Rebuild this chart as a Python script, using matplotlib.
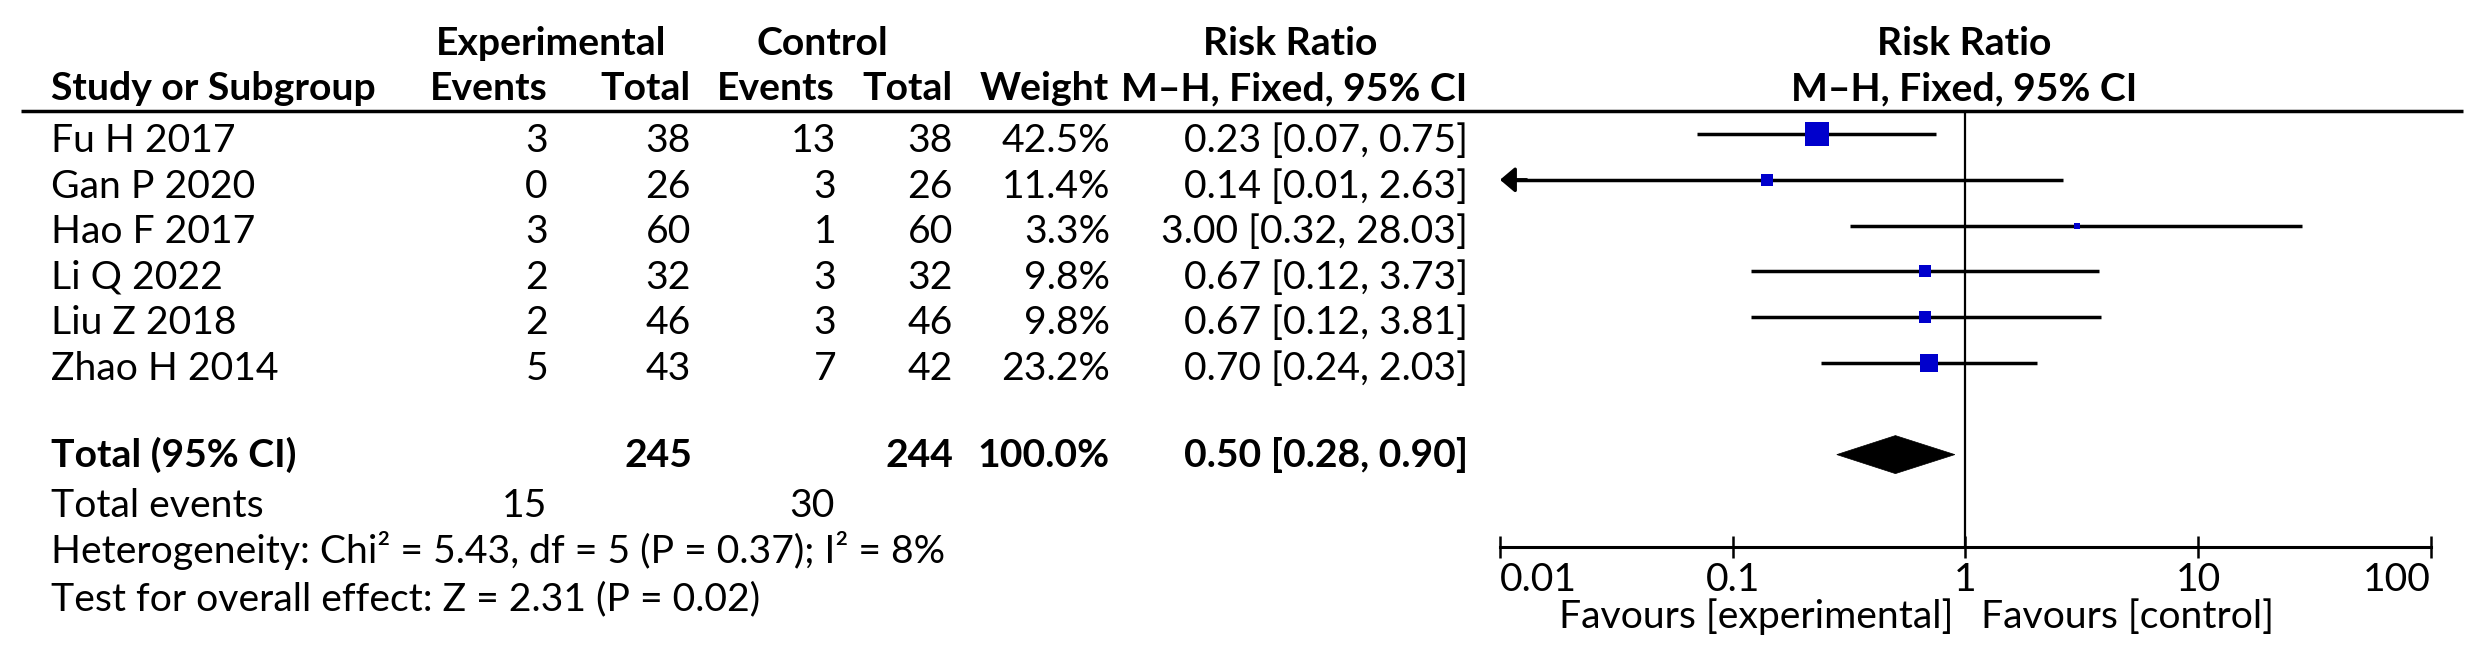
import matplotlib
matplotlib.use("Agg")
import matplotlib.pyplot as plt
from matplotlib.patches import Polygon
from matplotlib.ticker import NullLocator
import numpy as np

# ---------------- data ----------------
studies = ["Fu H 2017", "Gan P 2020", "Hao F 2017", "Li Q 2022", "Liu Z 2018", "Zhao H 2014"]
exp_events = [3, 0, 3, 2, 2, 5]
exp_total = [38, 26, 60, 32, 46, 43]
ctl_events = [13, 3, 1, 3, 3, 7]
ctl_total = [38, 26, 60, 32, 46, 42]
weights = [42.5, 11.4, 3.3, 9.8, 9.8, 23.2]
rr = [0.23, 0.14, 3.00, 0.67, 0.67, 0.70]
ci_low = [0.07, 0.01, 0.32, 0.12, 0.12, 0.24]
ci_high = [0.75, 2.63, 28.03, 3.73, 3.81, 2.03]

total_exp = 245
total_ctl = 244
total_weight = 100.0
pooled_rr = 0.50
pooled_low = 0.28
pooled_high = 0.90
events_exp_sum = 15
events_ctl_sum = 30
heterogeneity = "Heterogeneity: Chi\u00b2 = 5.43, df = 5 (P = 0.37); I\u00b2 = 8%"
overall = "Test for overall effect: Z = 2.31 (P = 0.02)"

xticks = [0.01, 0.1, 1, 10, 100]
xtick_labels = ["0.01", "0.1", "1", "10", "100"]
fav_left = "Favours [experimental]"
fav_right = "Favours [control]"

# ---------------- layout ----------------
W, H = 2491, 661
plt.rcParams['font.family'] = ['Lato', 'DejaVu Sans']
fig = plt.figure(figsize=(W / 100, H / 100), dpi=100)

# font size chosen so that the heterogeneity line has the reference width
_t = fig.text(0, 0, heterogeneity, fontsize=10)
_r = fig.canvas.get_renderer()
_w10 = _t.get_window_extent(_r).width
_t.remove()
FS = 10 * 893 / _w10

tab = fig.add_axes([0, 0, 1, 1])
tab.set_xlim(0, W)
tab.set_ylim(H, 0)
tab.axis('off')


def txt(x, y, s, ha='left', bold=False):
    tab.text(x, y, s, ha=ha, va='baseline', fontsize=FS,
             fontweight='bold' if bold else 'normal', color='black')


# header rows
txt(551, 55, "Experimental", ha='center', bold=True)
txt(822, 55, "Control", ha='center', bold=True)
txt(1290, 55, "Risk Ratio", ha='center', bold=True)
txt(1964, 55, "Risk Ratio", ha='center', bold=True)

txt(51, 100, "Study or Subgroup", bold=True)
txt(548, 100, "Events", ha='right', bold=True)
txt(691, 100, "Total", ha='right', bold=True)
txt(835, 100, "Events", ha='right', bold=True)
txt(953, 100, "Total", ha='right', bold=True)
txt(1109, 100, "Weight", ha='right', bold=True)
txt(1467, 100, "M\u2013H, Fixed, 95% CI", ha='right', bold=True)
txt(1964, 100, "M\u2013H, Fixed, 95% CI", ha='center', bold=True)

tab.plot([21, 2463], [111, 111], color='black', lw=2.5, solid_capstyle='butt')

row0, pitch = 152, 45.6
for i, name in enumerate(studies):
    yb = row0 + pitch * i
    txt(51, yb, name)
    txt(548, yb, f"{exp_events[i]}", ha='right')
    txt(691, yb, f"{exp_total[i]}", ha='right')
    txt(836, yb, f"{ctl_events[i]}", ha='right')
    txt(953, yb, f"{ctl_total[i]}", ha='right')
    txt(1110, yb, f"{weights[i]:.1f}%", ha='right')
    txt(1468, yb, f"{rr[i]:.2f} [{ci_low[i]:.2f}, {ci_high[i]:.2f}]", ha='right')

txt(51, 467, "Total (95% CI)", bold=True)
txt(692, 467, f"{total_exp}", ha='right', bold=True)
txt(953, 467, f"{total_ctl}", ha='right', bold=True)
txt(1110, 467, f"{total_weight:.1f}%", ha='right', bold=True)
txt(1468, 467, f"{pooled_rr:.2f} [{pooled_low:.2f}, {pooled_high:.2f}]", ha='right', bold=True)

txt(51, 517, "Total events")
txt(547, 517, f"{events_exp_sum}", ha='right')
txt(835, 517, f"{events_ctl_sum}", ha='right')
txt(51, 563, heterogeneity)
txt(51, 610, overall)

txt(1953, 628, fav_left, ha='right')
txt(1981, 628, fav_right, ha='left')

# ---------------- forest plot ----------------
ax_left, ax_right, ax_top, ax_bot = 1500, 2431, 111, 547
ax = fig.add_axes([ax_left / W, 1 - ax_bot / H, (ax_right - ax_left) / W, (ax_bot - ax_top) / H])
ax.patch.set_alpha(0)
ax.set_xscale('log')
xmin, xmax = xticks[0], xticks[-1]
ax.set_xlim(xmin, xmax)
line0, lpitch = 134, 45.8
ax.set_ylim((ax_bot - line0) / lpitch, (ax_top - line0) / lpitch)

ax.axvline(1, color='black', lw=1.6, zorder=1)

blue = '#0000CC'
for i in range(len(studies)):
    lo, hi = ci_low[i], ci_high[i]
    if lo <= xmin:
        ax.plot([xmin * 1.06, min(hi, xmax)], [i, i], color='black', lw=2.5,
                solid_capstyle='butt', zorder=2)
        ax.annotate('', xy=(xmin, i), xytext=(xmin * 1.3, i),
                    arrowprops=dict(arrowstyle='-|>,head_length=0.45,head_width=0.38',
                                    mutation_scale=20, color='black', lw=2.5,
                                    shrinkA=0, shrinkB=0), zorder=2)
    else:
        ax.plot([lo, min(hi, xmax)], [i, i], color='black', lw=2.5,
                solid_capstyle='butt', zorder=2)
    side_px = 3.8 * np.sqrt(weights[i])
    ax.plot(rr[i], i, marker='s', ms=side_px * 72 / 100, mew=0,
            color=blue, zorder=3)

ytot = 7
hh = 0.415
diamond = Polygon([(pooled_low, ytot), (pooled_rr, ytot - hh), (pooled_high, ytot),
                   (pooled_rr, ytot + hh)], closed=True, facecolor='black',
                  edgecolor='black', lw=0.5, zorder=3)
ax.add_patch(diamond)

for s in ['top', 'left', 'right']:
    ax.spines[s].set_visible(False)
ax.spines['bottom'].set_linewidth(2.2)
ax.set_yticks([])
ax.set_xticks(xticks)
ax.set_xticklabels(xtick_labels)
ax.xaxis.set_minor_locator(NullLocator())
ax.tick_params(axis='x', direction='inout', length=16, width=1.8, pad=3,
               labelsize=FS, colors='black')
labs = ax.get_xticklabels()
labs[0].set_ha('left')
labs[-1].set_ha('right')

fig.savefig('out.png', dpi=100, facecolor='white')
